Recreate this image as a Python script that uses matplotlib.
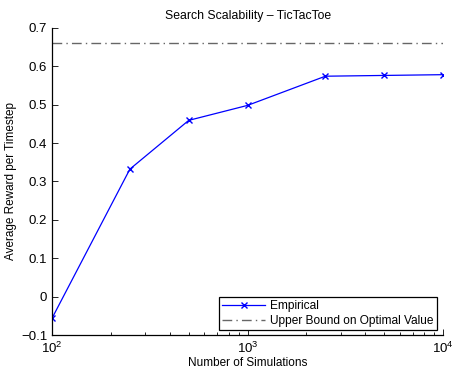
import numpy as np
import matplotlib
matplotlib.use('Agg')
import matplotlib.pyplot as plt

plt.rcParams['font.family'] = ['Liberation Sans', 'DejaVu Sans']
plt.rcParams['mathtext.default'] = 'regular'
plt.rcParams['font.size'] = 8.5

n_sims = [100, 250, 500, 1000, 2500, 5000, 10000]
avg_reward = [-0.056, 0.332, 0.459, 0.498, 0.574, 0.576, 0.578]
upper_bound = 0.661

fig = plt.figure(figsize=(4.53, 3.71), dpi=100)
ax = fig.add_axes([0.115, 0.097, 0.863, 0.828])

ax.plot(n_sims, avg_reward, color='blue', linewidth=0.9, marker='x',
        markersize=4, markeredgewidth=1.0, label='Empirical')
ax.axhline(upper_bound, color='0.4', linestyle='-.', linewidth=1.0,
           dashes=(7, 3, 1, 3), label='Upper Bound on Optimal Value')

ax.set_xscale('log')
ax.set_xlim(100, 10000)
ax.set_ylim(-0.1, 0.7)
ax.set_yticks(np.arange(-0.1, 0.71, 0.1))
ax.set_yticklabels(['\u22120.1', '0', '0.1', '0.2', '0.3', '0.4', '0.5', '0.6', '0.7'])

for side in ('top', 'right'):
    ax.spines[side].set_visible(False)
for side in ('left', 'bottom'):
    ax.spines[side].set_linewidth(0.9)
ax.tick_params(which='both', direction='in', labelsize=9.5, width=0.6)
ax.tick_params(which='major', length=4)
ax.tick_params(which='minor', length=2)
ax.tick_params(axis='x', pad=4)

ax.set_title('Search Scalability \u2013 TicTacToe', fontsize=8.8, pad=6)
ax.set_xlabel('Number of Simulations', fontsize=8.5, labelpad=1)
ax.set_ylabel('Average Reward per Timestep', fontsize=8.5, labelpad=3)

leg = ax.legend(loc='lower right', bbox_to_anchor=(0.985, 0.015),
                fontsize=8.6, fancybox=False, framealpha=1,
                edgecolor='black', borderpad=0.3, labelspacing=0.2,
                handlelength=3.6, handletextpad=0.4, borderaxespad=0)
leg.get_frame().set_linewidth(0.9)

fig.savefig('out.png', dpi=100)
